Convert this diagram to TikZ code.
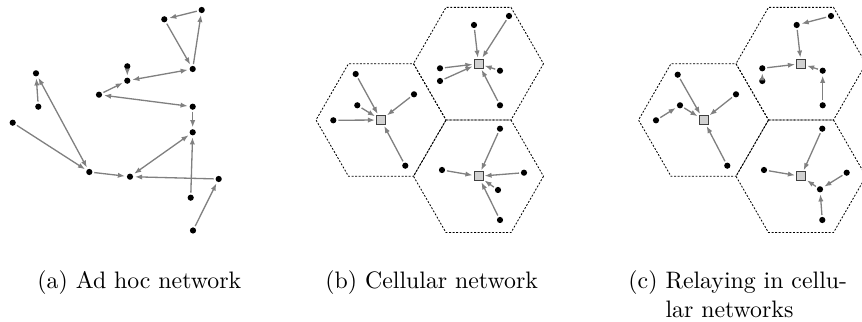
\documentclass[tikz,border=0pt]{standalone}
\usetikzlibrary{arrows.meta}
\begin{document}
\begin{tikzpicture}[x=0.42pt,y=-0.42pt,
  dot/.style={circle,fill=black,inner sep=0pt,minimum size=2.6pt,outer sep=0.8pt},
  bs/.style={rectangle,draw=black!75,fill=black!18,line width=0.35pt,inner sep=0pt,minimum size=3.8pt,outer sep=0.6pt},
  link/.style={draw=black!50,line width=0.55pt,-{Latex[length=3pt,width=2.2pt]}},
  blink/.style={draw=black!50,line width=0.55pt,{Latex[length=3pt,width=2.2pt]}-{Latex[length=3pt,width=2.2pt]}},
  cell/.style={draw=black,line width=0.35pt,dash pattern=on 0.8pt off 0.7pt},
  captext/.style={anchor=base west,inner sep=0pt,font=\normalsize}]
\useasboundingbox (0,0) rectangle (862,322);

% ---------- (a) ad hoc ----------
\node[dot] (a1) at (201.7,10) {};
\node[dot] (a2) at (164.3,19.3) {};
\node[dot] (a3) at (192.7,69) {};
\node[dot] (a4) at (127.3,66.3) {};
\node[dot] (a5) at (127.3,80.7) {};
\node[dot] (a6) at (99,94.7) {};
\node[dot] (a7) at (192.7,106.7) {};
\node[dot] (a8) at (192.7,132.3) {};
\node[dot] (a9) at (36,73.3) {};
\node[dot] (a10) at (38.3,106.7) {};
\node[dot] (a11) at (12.7,122.7) {};
\node[dot] (a12) at (89.3,172) {};
\node[dot] (a13) at (130,176.7) {};
\node[dot] (a14) at (218.7,179) {};
\node[dot] (a15) at (190.7,197.7) {};
\node[dot] (a16) at (193,230.5) {};
\draw[link] (a1) -- (a2);
\draw[link] (a2) -- (a3);
\draw[link] (a3) -- (a1);
\draw[blink] (a3) -- (a5);
\draw[link] (a4) -- (a5);
\draw[link] (a6) -- (a5);
\draw[blink] (a6) -- (a7);
\draw[link] (a7) -- (a8);
\draw[link] (a10) -- (a9);
\draw[blink] (a9) -- (a12);
\draw[link] (a11) -- (a12);
\draw[link] (a12) -- (a13);
\draw[blink] (a8) -- (a13);
\draw[link] (a14) -- (a13);
\draw[link] (a15) -- (a8);
\draw[link] (a16) -- (a14);

% ---------- hexagons ----------
\foreach \cx/\cy in {381/120, 478.5/63.7, 478.5/176.3, 703.5/120, 801/63.7, 801/176.3}
  \draw[cell] (\cx+65,\cy) -- ++(120:65) -- ++(180:65) -- ++(240:65) -- ++(300:65) -- ++(0:65) -- cycle;

% ---------- (b) cellular ----------
\node[bs] (bL) at (381,120) {};
\node[bs] (bU) at (478.5,63.7) {};
\node[bs] (bD) at (478.5,176.3) {};
\node[dot] (b1) at (355.7,74) {};
\node[dot] (b2) at (414,94.3) {};
\node[dot] (b3) at (357.3,105.3) {};
\node[dot] (b4) at (333.3,120.3) {};
\node[dot] (b5) at (405.3,165.7) {};
\node[dot] (b6) at (474,25) {};
\node[dot] (b7) at (509,16) {};
\node[dot] (b8) at (440,68.3) {};
\node[dot] (b9) at (440,81) {};
\node[dot] (b10) at (500,70.7) {};
\node[dot] (b11) at (500,105.3) {};
\node[dot] (b12) at (500,128.7) {};
\node[dot] (b13) at (442,170) {};
\node[dot] (b14) at (524,172.7) {};
\node[dot] (b15) at (498,190) {};
\node[dot] (b16) at (500,220) {};
\foreach \n in {b1,b2,b3,b4,b5} \draw[link] (\n) -- (bL);
\foreach \n in {b6,b7,b8,b9,b10,b11} \draw[link] (\n) -- (bU);
\foreach \n in {b12,b13,b14,b15,b16} \draw[link] (\n) -- (bD);

% ---------- (c) relaying ----------
\node[bs] (cL) at (703.5,120) {};
\node[bs] (cU) at (801,63.7) {};
\node[bs] (cD) at (801,176.3) {};
\node[dot] (c1) at (677.7,74.7) {};
\node[dot] (c2) at (736,94.3) {};
\node[dot] (c3) at (680,105.3) {};
\node[dot] (c4) at (656,120.3) {};
\node[dot] (c5) at (727.3,165.7) {};
\node[dot] (c6) at (796.7,25) {};
\node[dot] (c7) at (831,16) {};
\node[dot] (c8) at (762.3,68.3) {};
\node[dot] (c9) at (762.3,81) {};
\node[dot] (c10) at (822.7,70.7) {};
\node[dot] (c11) at (822.7,105.3) {};
\node[dot] (c12) at (822.3,128.7) {};
\node[dot] (c13) at (764,170) {};
\node[dot] (c14) at (846.7,172.7) {};
\node[dot] (c15) at (820,189.3) {};
\node[dot] (c16) at (822.3,220) {};
\foreach \n in {c1,c2,c3,c5} \draw[link] (\n) -- (cL);
\draw[link] (c4) -- (c3);
\draw[link] (c7) -- (c6);
\foreach \n in {c6,c8,c10} \draw[link] (\n) -- (cU);
\draw[link] (c9) -- (c8);
\draw[link] (c11) -- (c10);
\foreach \n in {c12,c13,c15} \draw[link] (\n) -- (cD);
\draw[link] (c14) -- (c15);
\draw[link] (c16) -- (c15);

% ---------- captions ----------
\node[captext] (capa) at (37,289) {(a) Ad hoc network};
\node[captext] (capb) at (325,289) {(b) Cellular network};
\node[captext] (capc) at (628,289) {(c) Relaying in cellu-};
\node[captext] (capc2) at (628,318) {\hphantom{(c)}\ lar networks};
\end{tikzpicture}
\end{document}
